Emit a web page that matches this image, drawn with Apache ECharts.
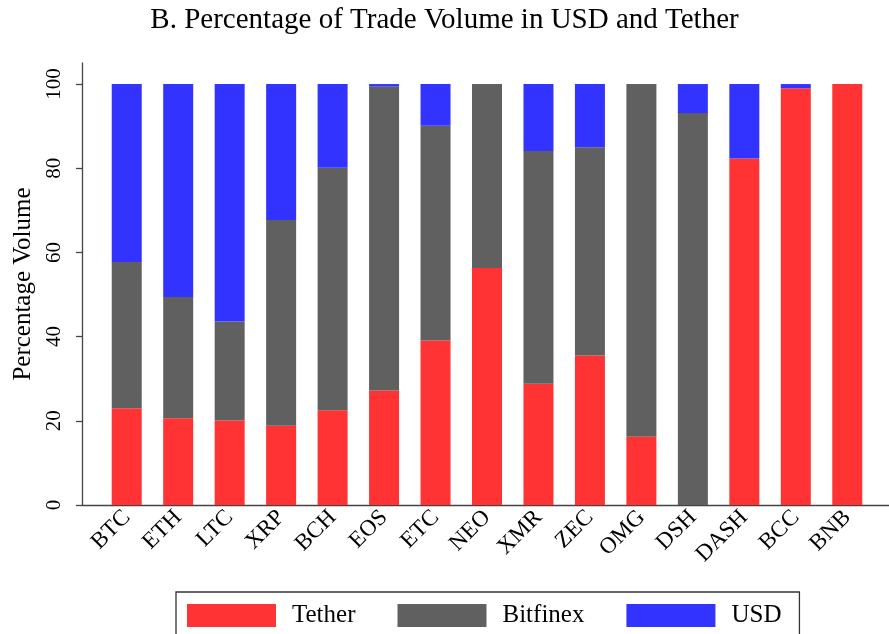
<!DOCTYPE html>
<html>
<head>
<meta charset="utf-8">
<title>Percentage of Trade Volume</title>
<script src="https://cdn.jsdelivr.net/npm/echarts@6/dist/echarts.min.js"></script>
<style>
    html, body { margin: 0; padding: 0; background: #fff; }
    #main { width: 889px; height: 634px; }
</style>
</head>
<body>
<div id="main"></div>
<script>
    // data (percent of volume)
    var categories = ['BTC', 'ETH', 'LTC', 'XRP', 'BCH', 'EOS', 'ETC', 'NEO', 'XMR', 'ZEC', 'OMG', 'DSH', 'DASH', 'BCC', 'BNB'];
    var tether = [23.0, 20.6, 20.1, 18.8, 22.5, 27.2, 39.1, 56.3, 28.8, 35.5, 16.2, 0, 82.3, 99.0, 100];
    var bitfinex = [34.7, 28.8, 23.5, 48.9, 57.6, 72.2, 51.0, 43.7, 55.3, 49.5, 83.8, 93.1, 0, 0, 0];
    var usd = [42.3, 50.6, 56.4, 32.3, 19.9, 0.6, 9.9, 0, 15.9, 15.0, 0, 6.9, 17.7, 1.0, 0];
    var yTicks = [0, 20, 40, 60, 80, 100];

    var serif = 'Liberation Serif';
    var axisColor = '#444';

    var chart = echarts.init(document.getElementById('main'));

    var option = {
        backgroundColor: '#fff',
        animation: false,
        title: {
            text: 'B. Percentage of Trade Volume in USD and Tether',
            left: 'center',
            top: 1,
            textStyle: {
                fontFamily: serif,
                fontWeight: 'normal',
                fontSize: 29,
                color: '#000'
            }
        },
        legend: {
            left: 176,
            top: 592,
            itemWidth: 89,
            itemHeight: 23,
            itemGap: 42,
            padding: [11, 18, 11, 11],
            borderColor: '#333',
            borderWidth: 1.3,
            icon: 'rect',
            textStyle: {
                fontFamily: serif,
                fontSize: 25,
                color: '#000',
                padding: [0, 0, 0, 11]
            },
            data: ['Tether', 'Bitfinex', 'USD']
        },
        color: ['#ff3333', '#606060', '#3333ff'],
        grid: [
            { left: 101, right: 16, top: 63, bottom: 129 },
            // only used to draw the full-width baseline
            { left: 82, right: 0, top: 63, bottom: 129 }
        ],
        xAxis: [{
            type: 'category',
            gridIndex: 0,
            data: categories,
            axisLine: { show: false },
            axisTick: { show: false },
            axisLabel: {
                rotate: 45,
                margin: 9,
                fontFamily: serif,
                fontSize: 23,
                color: '#000'
            }
        }, {
            type: 'value',
            gridIndex: 1,
            min: 0,
            max: 1,
            axisLine: { show: true, lineStyle: { color: axisColor, width: 1.3 } },
            axisTick: { show: false },
            axisLabel: { show: false },
            splitLine: { show: false }
        }],
        yAxis: [{
            type: 'value',
            gridIndex: 0,
            min: 0,
            max: 105,
            interval: 20,
            offset: 19,
            name: 'Percentage Volume',
            nameLocation: 'middle',
            nameGap: 46,
            nameTextStyle: {
                fontFamily: serif,
                fontSize: 25,
                color: '#000'
            },
            axisLine: { show: true, lineStyle: { color: axisColor, width: 1.3 } },
            axisTick: {
                show: true,
                length: 6,
                customValues: yTicks,
                lineStyle: { color: axisColor, width: 1.3 }
            },
            axisLabel: {
                rotate: 90,
                margin: 17,
                customValues: yTicks,
                fontFamily: serif,
                fontSize: 21,
                color: '#000'
            },
            splitLine: { show: false }
        }, {
            type: 'value',
            gridIndex: 1,
            show: false
        }],
        series: [{
            name: 'Tether',
            type: 'bar',
            stack: 'total',
            barWidth: 30,
            data: tether
        }, {
            name: 'Bitfinex',
            type: 'bar',
            stack: 'total',
            barWidth: 30,
            data: bitfinex
        }, {
            name: 'USD',
            type: 'bar',
            stack: 'total',
            barWidth: 30,
            data: usd
        }]
    };

    chart.setOption(option);
</script>
</body>
</html>
